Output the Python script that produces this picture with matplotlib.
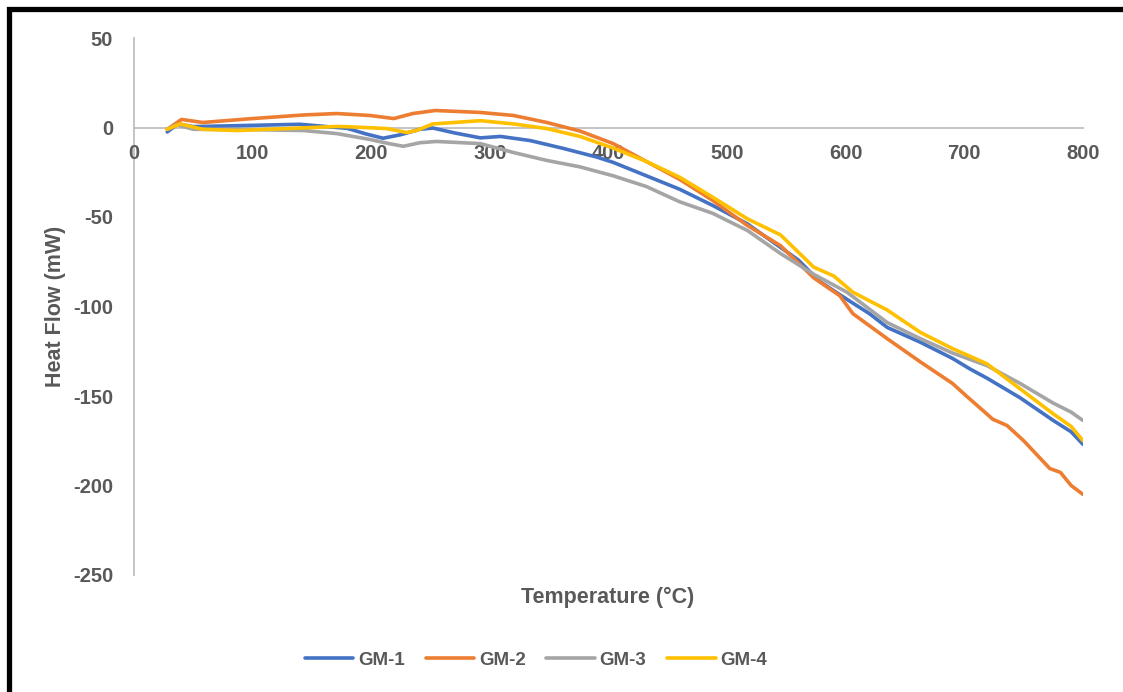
import matplotlib.pyplot as plt
from matplotlib.patches import Rectangle

# ---- data (Temperature in °C, Heat Flow in mW) ----
t_gm1 = [28, 37, 50, 100, 140, 180, 195, 210, 225, 241, 252, 270, 292, 309, 334, 362, 390,
         404, 432, 460, 488, 517, 545, 560, 578, 601, 620, 635, 663, 690, 705, 719, 747, 775, 790, 800]
hf_gm1 = [-2.5, 2, 0.5, 1.2, 1.8, -0.5, -3.5, -6, -4, -1, -0.3, -3, -5.8, -5, -7.3, -11.7, -16.5,
          -19.5, -27, -34.5, -43.6, -53.8, -67, -74, -86, -96, -104, -111.7, -120, -129, -135, -140, -151, -163.7, -170, -177]

t_gm2 = [28, 40, 58, 100, 143, 171, 199, 219, 235, 254, 292, 320, 348, 376, 404, 432, 460,
         488, 517, 545, 573, 595, 606, 635, 663, 690, 700, 724, 736, 750, 772, 781, 790, 800]
hf_gm2 = [-1, 4.5, 2.8, 5, 7, 7.8, 6.7, 5, 7.8, 9.5, 8.4, 6.7, 2.8, -2, -9, -19, -29,
          -40.8, -54.7, -66, -84, -94, -104, -118, -131, -143, -149, -163, -166.5, -175, -190.5, -192.7, -200, -205]

t_gm3 = [28, 36, 50, 100, 143, 171, 199, 215, 227, 241, 255, 292, 320, 348, 376, 404, 432,
         460, 488, 517, 545, 573, 601, 635, 663, 690, 719, 747, 775, 790, 800]
hf_gm3 = [-1, 1.5, -1, -1.2, -1.7, -3.4, -6.7, -9, -10.5, -8.5, -7.8, -9, -14, -18.4, -22, -27, -33,
          -41.5, -48, -57.5, -70.4, -82, -92, -109, -118, -126, -133, -143, -154, -159, -163.7]

t_gm4 = [28, 39, 58, 87, 129, 171, 185, 213, 230, 238, 252, 292, 320, 348, 376, 404, 432,
         460, 488, 517, 545, 573, 590, 606, 635, 663, 690, 719, 747, 775, 790, 800]
hf_gm4 = [-1, 2, -1, -1.7, -0.6, 0.6, 0.3, -0.6, -2.8, -1.7, 2, 3.8, 2, -0.6, -5, -11.5, -19,
          -27.8, -39, -51, -60, -78, -83, -92, -102, -114.5, -123.5, -132, -146, -160, -167, -175]

names = ['GM-1', 'GM-2', 'GM-3', 'GM-4']
colors = ['#4472C4', '#ED7D31', '#A5A5A5', '#FFC000']

#################### PLOT ####################
plt.rcParams['font.family'] = ['Liberation Sans', 'DejaVu Sans']
plt.rcParams['axes.unicode_minus'] = False
txt = '#595959'

fig = plt.figure(figsize=(11.23, 6.92), dpi=100)
ax = fig.add_axes([134 / 1123, 1 - 575 / 692, (1083 - 134) / 1123, (575 - 38) / 692])

series = [(t_gm1, hf_gm1), (t_gm2, hf_gm2), (t_gm3, hf_gm3), (t_gm4, hf_gm4)]
for (t, hf), name, c in zip(series, names, colors):
    ax.plot(t, hf, color=c, lw=2.6, label=name, solid_capstyle='round', solid_joinstyle='round')

ax.set_xlim(0, 800)
ax.set_ylim(-250, 50)
ax.set_xticks(range(0, 801, 100))
ax.set_yticks(range(-250, 51, 50))

# axis lines: y axis at x=0, x axis through zero
for s in ['top', 'right']:
    ax.spines[s].set_visible(False)
ax.spines['bottom'].set_position(('data', 0))
for s in ['left', 'bottom']:
    ax.spines[s].set_color('#BFBFBF')
    ax.spines[s].set_linewidth(1.3)
    ax.spines[s].set_zorder(0)

ax.tick_params(axis='x', length=0, pad=12, labelsize=14.5, labelcolor=txt)
ax.tick_params(axis='y', length=0, pad=15, labelsize=14.5, labelcolor=txt)
for lab in ax.get_xticklabels() + ax.get_yticklabels():
    lab.set_fontweight('bold')

fig.text(608 / 1123, 1 - 597 / 692, 'Temperature (°C)', ha='center', va='center',
         fontsize=15.5, fontweight='bold', color=txt)
fig.text(56 / 1123, 1 - 306 / 692, 'Heat Flow (mW)', ha='center', va='center', rotation=90,
         fontsize=15.5, fontweight='bold', color=txt)

leg = fig.legend(loc='center', bbox_to_anchor=(536 / 1123, 1 - 660 / 692), ncol=4, frameon=False,
                 handlelength=2.6, columnspacing=1.1, handletextpad=0.25,
                 prop={'weight': 'bold', 'size': 13.5})
for t in leg.get_texts():
    t.set_color(txt)

# black frame (top and left edges visible in the screenshot)
fig.add_artist(Rectangle((8.5 / 1123, -0.1), 1.2, 1.1 - 9.5 / 692, transform=fig.transFigure,
                         fill=False, edgecolor='black', lw=3.8))

fig.savefig('out.png', dpi=100)
